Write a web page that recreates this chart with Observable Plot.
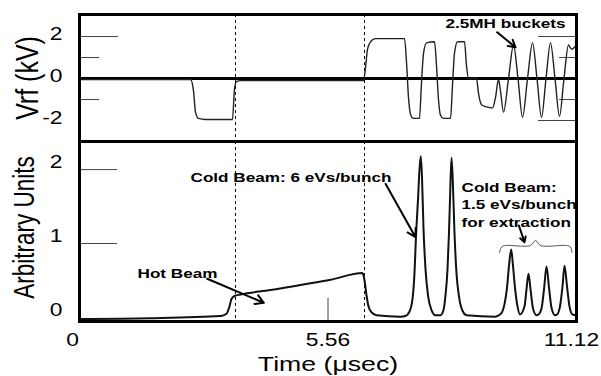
<!DOCTYPE html>
<html><head><meta charset="utf-8">
<script src="https://cdn.jsdelivr.net/npm/d3@7"></script>
<script src="https://cdn.jsdelivr.net/npm/@observablehq/plot@0.6"></script>
<style>body{margin:0;background:#fff;} #chart svg{display:block;}</style>
</head><body><div id="chart"></div>
<script>
// ---------- data ----------
// Upper panel: RF voltage (kV) vs time (µs)
const vrfTime = [0, 2.484, 2.551, 2.595, 2.663, 2.819, 3.423, 3.468, 3.513, 3.602, 6.354, 6.399, 6.444, 6.511, 6.623,
  7.272, 7.316, 7.361, 7.406, 7.473, 7.607, 7.652, 7.697, 7.764, 7.943, 7.988, 8.032, 8.077, 8.144, 8.301,
  8.346, 8.390, 8.458, 8.614, 8.659, 8.704, 8.883, 8.927, 8.995, 9.106, 9.241, 9.308, 9.375, 9.420, 9.487,
  9.599, 9.711, 9.811, 9.912, 10.024, 10.136, 10.236, 10.337, 10.438, 10.538, 10.639, 10.740, 10.840, 10.941, 11.008, 11.12];
const vrfValue = [-0.05, -0.05, -0.6, -1.6, -1.9, -1.95, -1.95, -0.5, -0.15, -0.1, -0.1, 0.5, 1.4, 1.75, 1.9,
  1.9, 0.8, -0.9, -1.7, -1.9, -1.9, -0.2, 1.2, 1.7, 1.75, 0.6, -1.0, -1.75, -1.9, -1.9,
  -0.3, 1.2, 1.75, 1.75, 0.6, 0.0, 0.0, -0.7, -1.25, -1.35, -1.4, -0.9, -0.05, -0.6, -1.6,
  0.0, 1.6, 0.0, -1.85, 0.0, 1.7, 0.0, -1.85, 0.0, 1.7, 0.0, -1.8, 0.0, 1.6, 1.4, 1.6];

// Lower panel: beam signal (arbitrary units) vs time (µs)
const beamTime = [0, 1.589, 3.155, 3.289, 3.356, 3.401, 3.468, 3.602, 4.273, 4.945, 5.616, 6.332, 6.377, 6.421, 6.466, 6.533, 6.645, 7.182,
  7.294, 7.384, 7.451, 7.495, 7.529, 7.574, 7.607, 7.636, 7.663, 7.697, 7.742, 7.797, 7.876, 7.965,
  8.077, 8.144, 8.189, 8.234, 8.267, 8.290, 8.323, 8.352, 8.390, 8.435, 8.491, 8.569, 8.659, 9.308,
  9.352, 9.442, 9.509, 9.565, 9.610, 9.659, 9.699, 9.744, 9.800, 9.856,
  9.957, 10.001, 10.046, 10.091, 10.147, 10.225,
  10.270, 10.337, 10.393, 10.449, 10.505, 10.561, 10.639,
  10.684, 10.751, 10.807, 10.852, 10.908, 10.963, 11.031, 11.12];
const beamValue = [-0.02, -0.01, 0.02, 0.05, 0.15, 0.25, 0.29, 0.31, 0.37, 0.44, 0.51, 0.60, 0.50, 0.30, 0.15, 0.07, 0.03, 0.01,
  0.02, 0.08, 0.25, 0.6, 1.1, 1.6, 2.0, 2.18, 1.9, 1.2, 0.65, 0.3, 0.1, 0.03,
  0.03, 0.1, 0.3, 0.65, 1.15, 1.6, 2.16, 1.85, 1.15, 0.6, 0.28, 0.09, 0.03, 0.01,
  0.02, 0.06, 0.18, 0.4, 0.7, 0.92, 0.7, 0.4, 0.15, 0.04,
  0.15, 0.38, 0.59, 0.38, 0.12, 0.03,
  0.04, 0.12, 0.38, 0.69, 0.4, 0.13, 0.03,
  0.04, 0.15, 0.42, 0.70, 0.42, 0.15, 0.04, 0.03];

// Gate times (dashed lines)
const gateTimes = [3.49, 6.377];

// Axis ticks and labels
const timeTicks = [0, 5.56, 11.12];
const timeTickLabels = ["0", "5.56", "11.12"];
const vrfTicks = [2, 0, -2];
const vrfTickLabels = ["2", "0", "-2"];
const beamTicks = [0, 1, 2];
const beamTickLabels = ["0", "1", "2"];
const vrfInnerMajor = [2];
const vrfInnerMinor = [1, -1];
const vrfRightMajor = [2, -2];
const vrfRightMinor = [1, -1];
const beamInnerTicks = [2, 1];
const timeInnerTicks = [5.56];

// Annotations (data coordinates)
const topNoteText = ["2.5MH buckets"];
const topNoteT = [8.189];
const topNoteV = [2.62];
const topArrowT1 = [9.345], topArrowV1 = [2.20], topArrowT2 = [9.755], topArrowV2 = [1.49];

const beamNoteText = ["Cold Beam: 6 eVs/bunch", "Hot Beam", "Cold Beam:", "1.5 eVs/bunch", "for extraction"];
const beamNoteT = [2.484, 1.298, 8.547, 8.547, 8.547];
const beamNoteV = [1.89, 0.595, 1.757, 1.527, 1.284];
const beamArrowT1 = [6.847, 2.857, 9.830];
const beamArrowV1 = [1.807, 0.523, 1.243];
const beamArrowT2 = [7.518, 4.124, 9.957];
const beamArrowV2 = [1.085, 0.198, 1.018];
const braceT = [9.397, 9.442, 9.531, 10.091, 10.203, 10.315, 10.896, 10.986, 11.019];
const braceV = [0.878, 0.953, 0.973, 0.973, 1.041, 0.973, 0.973, 0.953, 0.878];

// ---------- build tables ----------
const vrfData = vrfTime.map((t, i) => ({t, v: vrfValue[i]}));
const beamData = beamTime.map((t, i) => ({t, v: beamValue[i]}));
const topNotes = topNoteText.map((label, i) => ({label, t: topNoteT[i], v: topNoteV[i]}));
const topArrows = topArrowT1.map((t1, i) => ({t1, v1: topArrowV1[i], t2: topArrowT2[i], v2: topArrowV2[i]}));
const beamNotes = beamNoteText.map((label, i) => ({label, t: beamNoteT[i], v: beamNoteV[i]}));
const beamArrows = beamArrowT1.map((t1, i) => ({t1, v1: beamArrowV1[i], t2: beamArrowT2[i], v2: beamArrowV2[i]}));
const brace = braceT.map((t, i) => ({t, v: braceV[i]}));

const FONT = "'Liberation Sans', Arial, Helvetica, sans-serif";
const common = {
  width: 601, marginLeft: 79, marginRight: 25,
  style: {fontFamily: FONT, background: "white", color: "black", overflow: "visible"}
};
const tickStroke = "#444";
const timeLabel = d => timeTickLabels[timeTicks.indexOf(d)];
const timeAxisOpts = {anchor: "bottom", tickSize: 0, tickPadding: 12, fontSize: 18, label: null, tickFormat: timeLabel};

const topPlot = Plot.plot({
  ...common, height: 141, marginTop: 14, marginBottom: 0,
  x: {domain: [0, 11.12], axis: null, label: null},
  y: {domain: [-3.0, 3.05], label: null},
  marks: [
    Plot.ruleY(vrfInnerMajor, {x1: 0, x2: 0.87, stroke: tickStroke, strokeWidth: 1}),
    Plot.ruleY(vrfInnerMinor, {x1: 0, x2: 0.45, stroke: tickStroke, strokeWidth: 1}),
    Plot.ruleY(vrfRightMajor, {x1: 10.27, x2: 11.12, stroke: tickStroke, strokeWidth: 1}),
    Plot.ruleY(vrfRightMinor, {x1: 10.74, x2: 11.12, stroke: tickStroke, strokeWidth: 1}),
    Plot.ruleX(gateTimes, {stroke: "black", strokeWidth: 1, strokeDasharray: "3,3"}),
    Plot.ruleY([0], {stroke: "black", strokeWidth: 3}),
    Plot.line(vrfData, {x: "t", y: "v", curve: "monotone-x", stroke: "#222", strokeWidth: 1.4}),
    Plot.axisY(vrfTicks, {anchor: "left", tickSize: 0, tickPadding: 17, fontSize: 18, label: null, dy: -2,
      tickFormat: d => vrfTickLabels[vrfTicks.indexOf(d)]}),
    Plot.text(["Vrf (kV)"], {text: d => d, frameAnchor: "left", dx: -52, rotate: -90, fontSize: 25,
      textAnchor: "middle", lineAnchor: "middle"}),
    Plot.text(topNotes, {x: "t", y: "v", text: "label", textAnchor: "start", lineAnchor: "middle", fontSize: 13.5, fontWeight: "bold"}),
    Plot.arrow(topArrows, {x1: "t1", y1: "v1", x2: "t2", y2: "v2", stroke: "black", strokeWidth: 2, headLength: 7}),
    Plot.frame({stroke: "black", strokeWidth: 3})
  ]
});

const bottomPlot = Plot.plot({
  ...common, height: 235, marginTop: 0, marginBottom: 55,
  x: {domain: [0, 11.12], label: null},
  y: {domain: [-0.055, 2.38], label: null},
  marks: [
    Plot.ruleY(beamInnerTicks, {x1: 0, x2: 0.85, stroke: tickStroke, strokeWidth: 1}),
    Plot.ruleX(timeInnerTicks, {y1: -0.055, y2: 0.26, stroke: tickStroke, strokeWidth: 1}),
    Plot.ruleX(gateTimes, {stroke: "black", strokeWidth: 1, strokeDasharray: "3,3"}),
    Plot.line(beamData, {x: "t", y: "v", curve: "monotone-x", stroke: "#111", strokeWidth: 2}),
    Plot.line(brace, {x: "t", y: "v", curve: "catmull-rom", stroke: "#555", strokeWidth: 1}),
    Plot.axisX([timeTicks[0]], {...timeAxisOpts, dx: -7}),
    Plot.axisX([timeTicks[1]], {...timeAxisOpts, dx: 0}),
    Plot.axisX([timeTicks[2]], {...timeAxisOpts, dx: -5}),
    Plot.axisY(beamTicks, {anchor: "left", tickSize: 0, tickPadding: 17, fontSize: 18, label: null, dy: -7,
      tickFormat: d => beamTickLabels[beamTicks.indexOf(d)]}),
    Plot.text(["Arbitrary Units"], {text: d => d, frameAnchor: "left", dx: -55, dy: -4, rotate: -90, fontSize: 22.5,
      textAnchor: "middle", lineAnchor: "middle"}),
    Plot.text(["Time (\u03bcsec)"], {text: d => d, frameAnchor: "bottom", dy: 43, fontSize: 21, lineAnchor: "middle"}),
    Plot.text(beamNotes, {x: "t", y: "v", text: "label", textAnchor: "start", lineAnchor: "middle", fontSize: 13.5, fontWeight: "bold"}),
    Plot.arrow(beamArrows, {x1: "t1", y1: "v1", x2: "t2", y2: "v2", stroke: "black", strokeWidth: 2, headLength: 7}),
    Plot.frame({stroke: "black", strokeWidth: 3})
  ]
});

// The reference picture is stretched horizontally: widen glyphs about their anchors.
function stretch(svg, k) {
  svg.querySelectorAll("text").forEach(el => {
    const t = el.getAttribute("transform") || "";
    const rot = /rotate\(\s*-90/.test(t);
    el.setAttribute("transform", (t + (rot ? ` scale(1,${k})` : ` scale(${k},1)`)).trim());
  });
}
stretch(topPlot, 1.27);
stretch(bottomPlot, 1.27);

const root = document.getElementById("chart");
root.appendChild(topPlot);
root.appendChild(bottomPlot);
</script></body></html>
